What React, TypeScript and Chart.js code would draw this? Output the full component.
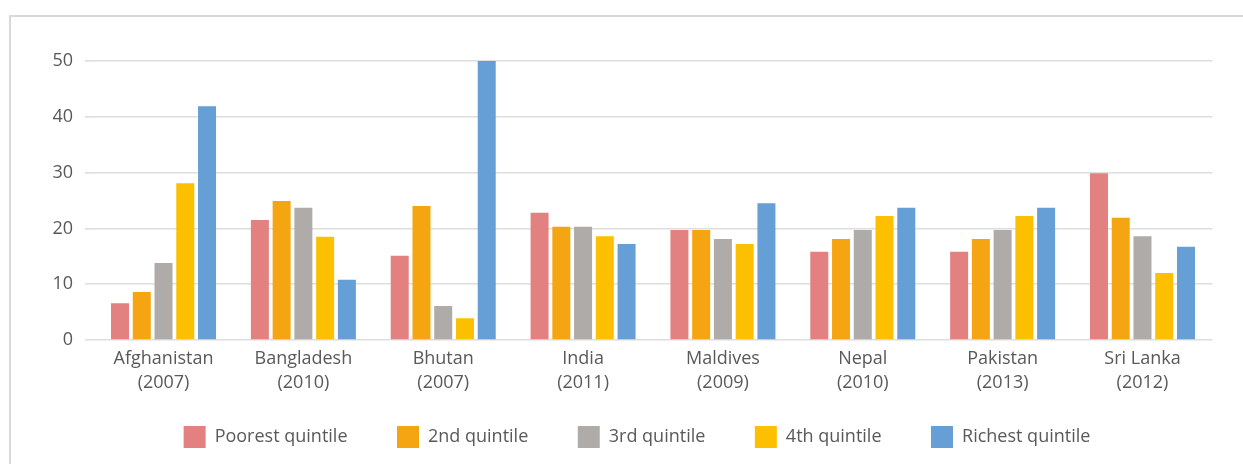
import React, { useEffect, useRef } from "react";
import { Chart, registerables } from "chart.js";

Chart.register(...registerables);

const categories: string[][] = [
  ["Afghanistan", "(2007)"],
  ["Bangladesh", "(2010)"],
  ["Bhutan", "(2007)"],
  ["India", "(2011)"],
  ["Maldives", "(2009)"],
  ["Nepal", "(2010)"],
  ["Pakistan", "(2013)"],
  ["Sri Lanka", "(2012)"],
];

const seriesNames = ["Poorest quintile", "2nd quintile", "3rd quintile", "4th quintile", "Richest quintile"];

const poorest = [6.6, 21.5, 15.1, 22.8, 19.7, 15.8, 15.8, 29.9];
const second = [8.6, 24.9, 24.0, 20.3, 19.7, 18.1, 18.1, 21.9];
const third = [13.8, 23.7, 6.1, 20.3, 18.1, 19.7, 19.7, 18.6];
const fourth = [28.1, 18.5, 3.9, 18.6, 17.2, 22.2, 22.2, 12.0];
const richest = [41.9, 10.8, 50, 17.2, 24.5, 23.7, 23.7, 16.7];

const yTicks = [0, 10, 20, 30, 40, 50];

const colors = ["#E38180", "#F5A511", "#AFABA8", "#FCC000", "#659FD5"];

const FONT = '"Open Sans", "Noto Sans", sans-serif';
const TEXT = "#595959";

export default function App() {
  const ref = useRef<HTMLCanvasElement | null>(null);

  useEffect(() => {
    let chart: Chart | null = null;
    let cancelled = false;
    const noClip = (s: any) => {
      s._computeLabelArea = () => undefined;
    };
    const make = () => {
      if (cancelled || !ref.current) return;
      const series = [poorest, second, third, fourth, richest];
      chart = new Chart(ref.current, {
        type: "bar",
        data: {
          labels: categories,
          datasets: series.map((d, i) => ({
            label: seriesNames[i],
            data: d,
            backgroundColor: colors[i],
            borderWidth: 0,
            categoryPercentage: 0.7776,
            barPercentage: 0.8276,
          })),
        },
        options: {
          responsive: false,
          animation: false,
          devicePixelRatio: 1,
          layout: { padding: { left: 50.6, right: 50.6, top: 44, bottom: 19 } },
          plugins: {
            tooltip: { enabled: false },
            legend: {
              position: "bottom",
              labels: {
                boxWidth: 22,
                boxHeight: 22,
                padding: 49.5,
                color: TEXT,
                font: { family: FONT, size: 18 },
              },
            },
          },
          scales: {
            x: {
              grid: { display: false, drawTicks: false },
              border: { display: false },
              ticks: {
                color: TEXT,
                padding: 7,
                maxRotation: 0,
                autoSkip: false,
                font: { family: FONT, size: 18, lineHeight: 24 / 18 },
              },
              afterFit: (s: any) => {
                s.height = 36.5;
                noClip(s);
              },
            },
            y: {
              min: yTicks[0],
              max: yTicks[yTicks.length - 1],
              border: { display: false },
              grid: {
                color: "#dedede",
                lineWidth: 1.6,
                drawTicks: true,
                tickLength: 8.6,
              },
              ticks: {
                stepSize: yTicks[1] - yTicks[0],
                color: TEXT,
                padding: 12,
                font: { family: FONT, size: 18 },
              },
              afterFit: (s: any) => {
                s.width = 32;
                noClip(s);
              },
            },
          },
        },
      });
    };
    const fonts: any = (document as any).fonts;
    if (fonts && fonts.load) {
      fonts.load('18px "Open Sans"').then(make, make);
    } else {
      make();
    }
    return () => {
      cancelled = true;
      if (chart) chart.destroy();
    };
  }, []);

  return (
    <div
      style={{
        position: "fixed",
        left: 9,
        top: 15,
        width: 1252,
        height: 470,
        border: "2px solid #d9d9d9",
        background: "#fff",
        overflow: "hidden",
      }}
    >
      <canvas ref={ref} width={1252} height={460} style={{ display: "block" }} />
    </div>
  );
}
